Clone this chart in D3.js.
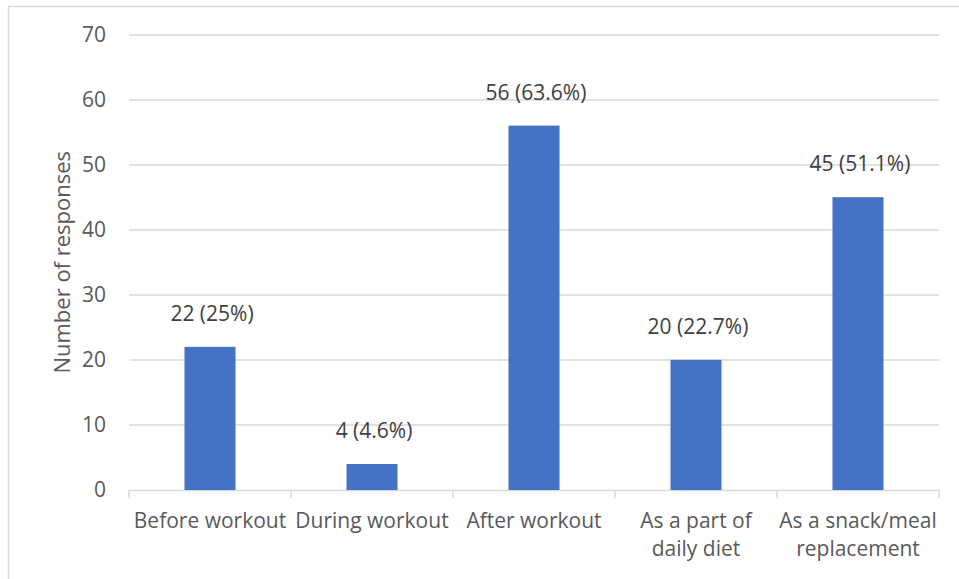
<!DOCTYPE html>
<html>
<head>
<meta charset="utf-8">
<script src="https://cdn.jsdelivr.net/npm/d3@7"></script>
<style>
  html, body { margin: 0; padding: 0; background: #fff; }
  svg { display: block; font-family: "Open Sans", "Noto Sans", sans-serif; }
</style>
</head>
<body>
<svg id="chart" width="959" height="579"></svg>
<script>
// Categories (each label split into display lines), response counts and shares
const categories = [
  ["Before workout"],
  ["During workout"],
  ["After workout"],
  ["As a part of", "daily diet"],
  ["As a snack/meal", "replacement"]
];
const counts = [22, 4, 56, 20, 45];
const shares = ["25%", "4.6%", "63.6%", "22.7%", "51.1%"];
const yTicks = [0, 10, 20, 30, 40, 50, 60, 70];
const yTitle = "Number of responses";

const svg = d3.select("#chart");
const W = 959, H = 579;
const margin = { left: 129, right: 20, top: 34.5, bottom: 89 };
const plotW = W - margin.left - margin.right;
const plotH = H - margin.top - margin.bottom;

// Outer chart frame (top and left edges visible)
svg.append("rect")
  .attr("x", 8.5).attr("y", 6.5)
  .attr("width", W).attr("height", H)
  .attr("fill", "none").attr("stroke", "#d9d9d9").attr("stroke-width", 1.5);

const g = svg.append("g").attr("transform", `translate(${margin.left},${margin.top})`);

const keys = categories.map((c, i) => i);
const x = d3.scaleBand().domain(keys).range([0, plotW]).paddingInner(0).paddingOuter(0);
const barFrac = 0.315;
const y = d3.scaleLinear().domain([0, 70]).range([plotH, 0]);

// Horizontal gridlines
g.append("g")
  .selectAll("line")
  .data(yTicks.filter(t => t > 0))
  .join("line")
  .attr("x1", 0).attr("x2", plotW)
  .attr("y1", d => Math.round(y(d)) + 0.5).attr("y2", d => Math.round(y(d)) + 0.5)
  .attr("stroke", "#d9d9d9").attr("stroke-width", 1.5);

// Y axis labels
const yAxis = d3.axisLeft(y).tickValues(yTicks).tickSize(0).tickPadding(23);
const ya = g.append("g").call(yAxis);
ya.select(".domain").remove();
ya.selectAll("text")
  .attr("fill", "#595959")
  .style("font-size", "21px")
  .style("font-family", "'Open Sans', sans-serif");

// X axis with category boundary ticks
const xa = g.append("g").attr("transform", `translate(0,${plotH})`);
xa.append("line")
  .attr("x1", 0).attr("x2", plotW)
  .attr("y1", 0.5).attr("y2", 0.5)
  .attr("stroke", "#d9d9d9").attr("stroke-width", 1.5);
const bounds = d3.range(keys.length + 1).map(i => i * x.step());
xa.selectAll("line.tick")
  .data(bounds)
  .join("line")
  .attr("class", "tick")
  .attr("x1", d => d).attr("x2", d => d)
  .attr("y1", 0).attr("y2", 8)
  .attr("stroke", "#d9d9d9").attr("stroke-width", 1.5);

const catText = xa.selectAll("text.cat")
  .data(categories)
  .join("text")
  .attr("class", "cat")
  .attr("x", (d, i) => x(i) + x.bandwidth() / 2)
  .attr("y", 38)
  .attr("text-anchor", "middle")
  .attr("fill", "#595959")
  .style("font-size", "21px");
catText.selectAll("tspan")
  .data(d => d)
  .join("tspan")
  .attr("x", function() { return d3.select(this.parentNode).attr("x"); })
  .attr("dy", (d, j) => j === 0 ? 0 : 28)
  .text(d => d);

// Bars
const bw = x.bandwidth() * barFrac;
g.append("g")
  .selectAll("rect")
  .data(counts)
  .join("rect")
  .attr("x", (d, i) => x(i) + (x.bandwidth() - bw) / 2)
  .attr("y", d => y(d))
  .attr("width", bw)
  .attr("height", d => plotH - y(d))
  .attr("fill", "#4472c4");

// Value labels above bars
g.append("g")
  .selectAll("text")
  .data(counts)
  .join("text")
  .attr("x", (d, i) => x(i) + x.bandwidth() / 2 + 2)
  .attr("y", d => y(d) - 26)
  .attr("text-anchor", "middle")
  .attr("fill", "#404040")
  .style("font-size", "21px")
  .text((d, i) => `${d} (${shares[i]})`);

// Y axis title
svg.append("text")
  .attr("transform", `translate(70,${margin.top + plotH / 2}) rotate(-90)`)
  .attr("text-anchor", "middle")
  .attr("fill", "#595959")
  .style("font-size", "22px")
  .text(yTitle);
</script>
</body>
</html>
